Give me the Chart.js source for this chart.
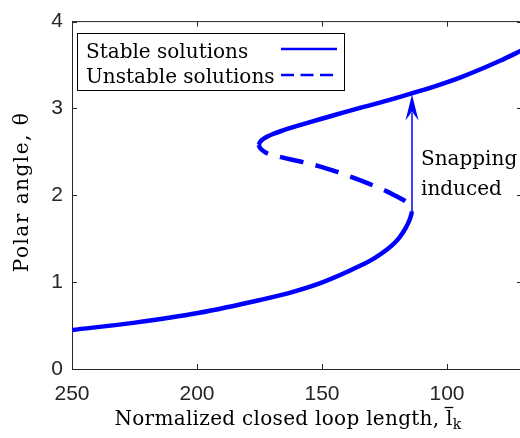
<!DOCTYPE html>
<html>
<head>
<meta charset="utf-8">
<script src="https://cdn.jsdelivr.net/npm/chart.js@4/dist/chart.umd.min.js"></script>
<style>
html,body{margin:0;padding:0;background:#fff;overflow:hidden;}
#wrap{width:524px;height:438px;}
</style>
</head>
<body>
<div id="wrap"><canvas id="c" width="524" height="438"></canvas></div>
<script>
// ---- data ----
const xTicks = [250, 200, 150, 100];
const yTicks = [0, 1, 2, 3, 4];
const xRange = [70, 250];
const yRange = [0, 4];

// lower stable branch
const stableLowerX = [250, 224.8, 199.6, 174.8, 161.6, 149.6, 134.8, 128.8, 124.0, 120.8, 118.8, 116.4, 114.8, 114.0];
const stableLowerY = [0.449, 0.534, 0.644, 0.794, 0.888, 1.000, 1.188, 1.280, 1.375, 1.456, 1.523, 1.631, 1.730, 1.809];

// unstable branch (from the upper fold down to the lower fold)
const unstableX = [175.3, 175.0, 174.0, 172.4, 170.0, 166.8, 162.4, 157.6, 152.8, 148.4, 143.6, 138.1, 133.6, 128.8, 124.1, 120.8, 118.2, 116.0, 114.6, 114.0];
const unstableY = [2.579, 2.556, 2.522, 2.491, 2.465, 2.442, 2.412, 2.382, 2.348, 2.311, 2.266, 2.210, 2.161, 2.104, 2.045, 1.997, 1.957, 1.918, 1.876, 1.809];

// upper stable branch
const stableUpperX = [175.3, 174.8, 173.6, 172.0, 169.6, 165.6, 161.6, 154.8, 148.0, 141.6, 134.8, 126.8, 118.8, 110.8, 102.8, 94.8, 86.8, 78.8, 70.0];
const stableUpperY = [2.579, 2.612, 2.646, 2.674, 2.706, 2.747, 2.784, 2.843, 2.899, 2.952, 3.006, 3.067, 3.133, 3.202, 3.275, 3.356, 3.448, 3.549, 3.669];

const arrowX = 114;
const arrowFromY = 1.80;
const arrowToY = 3.16;

const legendLabels = ["Stable solutions", "Unstable solutions"];
const annotationLines = ["Snapping", "induced"];
const xTitle = "Normalized closed loop length, ";
const yTitle = "Polar angle, \u03B8";

// ---- build ----
const toPts = (xs, ys) => xs.map((v, i) => ({x: v, y: ys[i]}));
const BLUE = '#0000ff';
const AX = '#262626';
const SERIF = '"DejaVu Serif", serif';

const decor = {
  id: 'decor',
  afterDatasetsDraw(chart) {
    const {ctx, scales: {x, y}} = chart;
    ctx.save();
    const ax = x.getPixelForValue(arrowX);
    const y0 = y.getPixelForValue(arrowFromY);
    const y1 = y.getPixelForValue(arrowToY);
    ctx.strokeStyle = BLUE; ctx.fillStyle = BLUE; ctx.lineWidth = 1.5;
    ctx.beginPath(); ctx.moveTo(ax, y0); ctx.lineTo(ax, y1 + 18); ctx.stroke();
    ctx.beginPath();
    ctx.moveTo(ax, y1);
    ctx.lineTo(ax - 6.5, y1 + 26);
    ctx.lineTo(ax, y1 + 17);
    ctx.lineTo(ax + 6.5, y1 + 26);
    ctx.closePath(); ctx.fill();
    ctx.fillStyle = '#000';
    ctx.font = '20px ' + SERIF;
    ctx.textAlign = 'left'; ctx.textBaseline = 'alphabetic';
    ctx.fillText(annotationLines[0], 421, 165);
    ctx.fillText(annotationLines[1], 421, 195);
    ctx.restore();
  },
  afterDraw(chart) {
    const {ctx, chartArea: a, scales: {x, y}} = chart;
    ctx.save();
    ctx.strokeStyle = AX; ctx.lineWidth = 1;
    ctx.beginPath();
    ctx.moveTo(a.left, a.top); ctx.lineTo(a.right, a.top);
    ctx.moveTo(a.right + 0.5, a.top); ctx.lineTo(a.right + 0.5, a.bottom);
    ctx.stroke();
    ctx.beginPath();
    xTicks.forEach(v => {
      const px = Math.round(x.getPixelForValue(v)) + 0.5;
      ctx.moveTo(px, a.bottom); ctx.lineTo(px, a.bottom - 5);
      ctx.moveTo(px, a.top); ctx.lineTo(px, a.top + 5);
    });
    yTicks.forEach(v => {
      const py = Math.round(y.getPixelForValue(v)) + 0.5;
      ctx.moveTo(a.left, py); ctx.lineTo(a.left + 5, py);
      ctx.moveTo(a.right, py); ctx.lineTo(a.right - 5, py);
    });
    ctx.stroke();
    // legend
    ctx.fillStyle = '#fff';
    ctx.fillRect(77.5, 33.5, 267, 57);
    ctx.strokeStyle = '#000';
    ctx.strokeRect(77.5, 33.5, 267, 57);
    ctx.fillStyle = '#000';
    ctx.font = '20px ' + SERIF;
    ctx.textAlign = 'left'; ctx.textBaseline = 'alphabetic';
    ctx.fillText(legendLabels[0], 86, 58);
    ctx.fillText(legendLabels[1], 86, 83);
    ctx.strokeStyle = BLUE; ctx.lineWidth = 2.5;
    ctx.beginPath(); ctx.moveTo(281, 49); ctx.lineTo(337, 49); ctx.stroke();
    ctx.setLineDash([13, 6.5]);
    ctx.beginPath(); ctx.moveTo(281, 75); ctx.lineTo(337, 75); ctx.stroke();
    ctx.setLineDash([]);
    // x title
    ctx.fillStyle = '#000';
    ctx.font = '20px ' + SERIF;
    ctx.letterSpacing = '0.3px';
    const w = ctx.measureText(xTitle).width;
    const lw = ctx.measureText('l').width;
    ctx.font = '14px ' + SERIF;
    const kw = ctx.measureText('k').width;
    const total = w + lw + kw;
    const sx = 288 - total / 2;
    const base = 425;
    ctx.font = '20px ' + SERIF;
    ctx.fillText(xTitle, sx, base);
    ctx.fillText('l', sx + w, base);
    ctx.lineWidth = 1.3; ctx.strokeStyle = '#000';
    ctx.beginPath(); ctx.moveTo(sx + w - 1.5, 407.5); ctx.lineTo(sx + w + lw + 0.5, 407.5); ctx.stroke();
    ctx.font = '14px ' + SERIF;
    ctx.fillText('k', sx + w + lw, base + 4);
    // y title
    ctx.save();
    ctx.translate(28, 192);
    ctx.rotate(-Math.PI / 2);
    ctx.font = '20px ' + SERIF;
    ctx.letterSpacing = '1.5px';
    ctx.textAlign = 'center';
    ctx.fillText(yTitle, 0, 0);
    ctx.restore();
    ctx.restore();
  }
};

const tickFont = {family: '"Liberation Sans", Arial, sans-serif', size: 21};
const lineDs = (label, xs, ys, extra) => Object.assign({
  label, data: toPts(xs, ys), showLine: true, borderColor: BLUE, borderWidth: 4.5,
  pointRadius: 0, cubicInterpolationMode: 'monotone', fill: false
}, extra || {});

new Chart(document.getElementById('c'), {
  type: 'scatter',
  data: {
    datasets: [
      lineDs(legendLabels[0], stableLowerX, stableLowerY),
      lineDs(legendLabels[1], unstableX, unstableY, {borderDash: [24, 12.5], borderDashOffset: 11}),
      lineDs(legendLabels[0], stableUpperX, stableUpperY)
    ]
  },
  options: {
    responsive: false,
    devicePixelRatio: 1,
    animation: false,
    layout: {padding: {top: 13, right: 2, left: 0, bottom: 0}},
    plugins: {legend: {display: false}, tooltip: {enabled: false}},
    scales: {
      x: {
        type: 'linear', reverse: true, min: xRange[0], max: xRange[1],
        afterBuildTicks: s => { s.ticks = xTicks.map(v => ({value: v})); },
        afterFit: s => { s.height = 438 - 369; },
        grid: {display: false, drawTicks: false},
        border: {display: true, color: AX, width: 1},
        ticks: {font: tickFont, color: AX, padding: 13, maxRotation: 0, autoSkip: false}
      },
      y: {
        type: 'linear', min: yRange[0], max: yRange[1],
        afterBuildTicks: s => { s.ticks = yTicks.map(v => ({value: v})); },
        afterFit: s => { s.width = 72; },
        grid: {display: false, drawTicks: false},
        border: {display: true, color: AX, width: 1},
        ticks: {font: tickFont, color: AX, padding: 9}
      }
    }
  },
  plugins: [decor]
});
</script>
</body>
</html>
